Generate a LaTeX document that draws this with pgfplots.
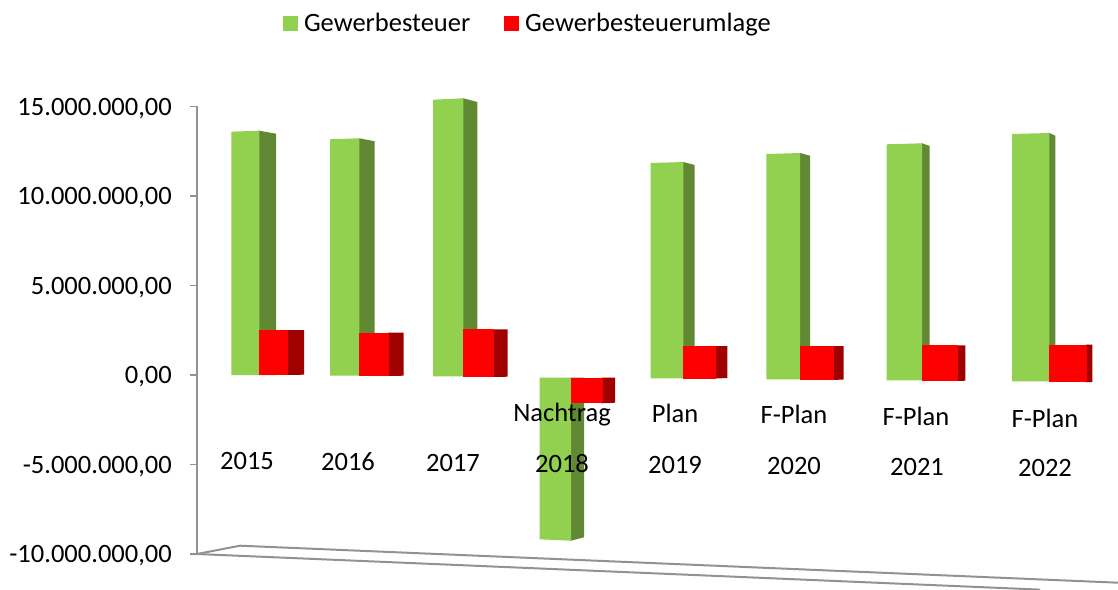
\documentclass[border=0pt]{standalone}
\usepackage{fontspec}
\setmainfont{Carlito}
\usepackage{pgfplots}
\pgfplotsset{compat=1.18}
\definecolor{gfront}{HTML}{92D050}
\definecolor{gside}{HTML}{618833}
\definecolor{rfront}{HTML}{FF0000}
\definecolor{rside}{HTML}{A00000}
\definecolor{axgray}{HTML}{929292}
\begin{document}
\begin{tikzpicture}[x=1pt,y=1pt]
\useasboundingbox (0,0) rectangle (1118,589);
\begin{axis}[
  at={(197pt,0pt)}, anchor=south west,
  scale only axis, width=921pt, height=589pt,
  xmin=197, xmax=1118,
  ymin=-11955000, ymax=20950000,
  clip=false,
  axis x line=none,
  axis y line*=left,
  y axis line style={draw=none},
  ytick={-10000000,-5000000,0,5000000,10000000,15000000},
  scaled y ticks=false,
  tick align=outside,
  major tick length=7pt,
  ytick style={draw=axgray,line width=1.8pt},
  yticklabel style={
    /pgf/number format/assume math mode=true,
    /pgf/number format/fixed,
    /pgf/number format/fixed zerofill,
    /pgf/number format/precision=2,
    /pgf/number format/use comma,
    /pgf/number format/1000 sep={.},
    font=\fontsize{26.5}{30}\selectfont,
    inner sep=0pt, xshift=-18pt, yshift=-1.7pt},
  legend style={draw=none,fill=none,at={(0.0934,0.9806)},anchor=north west,
    legend columns=2,inner sep=0pt,outer sep=0pt,
    font=\fontsize{26.5}{30}\selectfont,
    /tikz/every odd column/.append style={column sep=4pt},
    /tikz/every even column/.append style={column sep=32pt}},
  legend cell align=left,
  legend image code/.code={\path[fill,#1,draw=none] (0pt,-7.5pt) rectangle (15pt,7.5pt);},
]
% axis and floor
\addplot[forget plot,draw=axgray,line width=2.2pt] coordinates {(197,15050000) (197,-10000000)};
\addplot[forget plot,draw=axgray,line width=2pt] coordinates {(190,-10000000) (197,-10000000) (240,-9536000) (1118,-11603000)};
\addplot[forget plot,draw=axgray,line width=2pt] coordinates {(197,-10000000) (1040,-11990000)};
% 2015
\addplot[forget plot,fill=gside,draw=none] coordinates {(258.3,13648000) (259.3,13648000) (276,13481000) (276,0) (258.3,0)} --cycle;
\addplot[forget plot,fill=gfront,draw=none] coordinates {(231.3,13592000) (259.3,13648000) (259.3,0) (231.3,0)} --cycle;
\addplot[forget plot,fill=rside,draw=none] coordinates {(286.7,2514000) (304,2514000) (304,17000) (286.7,0)} --cycle;
\addplot[forget plot,fill=rfront,draw=none] coordinates {(259.3,2514000) (287.7,2514000) (287.7,0) (259.3,0)} --cycle;
% 2016
\addplot[forget plot,fill=gside,draw=none] coordinates {(358.3,13224000) (359.3,13224000) (374.7,13056000) (374.7,0) (358.3,0)} --cycle;
\addplot[forget plot,fill=gfront,draw=none] coordinates {(330,13168000) (359.3,13224000) (359.3,-39000) (330,-39000)} --cycle;
\addplot[forget plot,fill=rside,draw=none] coordinates {(388,2363000) (403.7,2363000) (403.7,-39000) (388,-56000)} --cycle;
\addplot[forget plot,fill=rfront,draw=none] coordinates {(359.3,2363000) (389,2363000) (389,-56000) (359.3,-56000)} --cycle;
% 2017
\addplot[forget plot,fill=gside,draw=none] coordinates {(462.3,15458000) (463.3,15458000) (477.3,15251000) (477.3,0) (462.3,0)} --cycle;
\addplot[forget plot,fill=gfront,draw=none] coordinates {(433,15380000) (463.3,15458000) (463.3,-73000) (433,-73000)} --cycle;
\addplot[forget plot,fill=rside,draw=none] coordinates {(492.7,2553000) (507.7,2553000) (507.7,-95000) (492.7,-112000)} --cycle;
\addplot[forget plot,fill=rfront,draw=none] coordinates {(463.3,2553000) (493.7,2553000) (493.7,-112000) (463.3,-112000)} --cycle;
% 2018
\addplot[forget plot,fill=gside,draw=none] coordinates {(570,-151000) (584,-151000) (584,-9067000) (571,-9257000) (570,-9257000)} --cycle;
\addplot[forget plot,fill=gfront,draw=none] coordinates {(539.7,-151000) (571,-151000) (571,-9257000) (539.7,-9179000)} --cycle;
\addplot[forget plot,fill=rside,draw=none] coordinates {(601.7,-151000) (615,-151000) (615,-1547000) (601.7,-1581000)} --cycle;
\addplot[forget plot,fill=rfront,draw=none] coordinates {(571,-151000) (602.7,-151000) (602.7,-1581000) (571,-1581000)} --cycle;
% 2019
\addplot[forget plot,fill=gside,draw=none] coordinates {(682.3,11899000) (683.3,11899000) (694.7,11732000) (694.7,-100000) (682.3,-100000)} --cycle;
\addplot[forget plot,fill=gfront,draw=none] coordinates {(650.7,11844000) (683.3,11899000) (683.3,-184000) (650.7,-184000)} --cycle;
\addplot[forget plot,fill=rside,draw=none] coordinates {(715.3,1620000) (727.3,1620000) (727.3,-168000) (715.3,-196000)} --cycle;
\addplot[forget plot,fill=rfront,draw=none] coordinates {(683.3,1620000) (716.3,1620000) (716.3,-196000) (683.3,-196000)} --cycle;
% 2020
\addplot[forget plot,fill=gside,draw=none] coordinates {(799,12402000) (800,12402000) (810,12251000) (810,-100000) (799,-100000)} --cycle;
\addplot[forget plot,fill=gfront,draw=none] coordinates {(766.3,12346000) (800,12402000) (800,-240000) (766.3,-240000)} --cycle;
\addplot[forget plot,fill=rside,draw=none] coordinates {(833.3,1620000) (843.7,1620000) (843.7,-251000) (833.3,-279000)} --cycle;
\addplot[forget plot,fill=rfront,draw=none] coordinates {(800,1620000) (834.3,1620000) (834.3,-279000) (800,-279000)} --cycle;
% 2021
\addplot[forget plot,fill=gside,draw=none] coordinates {(921,12944000) (922,12944000) (929.7,12793000) (929.7,-100000) (921,-100000)} --cycle;
\addplot[forget plot,fill=gfront,draw=none] coordinates {(886.7,12888000) (922,12944000) (922,-296000) (886.7,-296000)} --cycle;
\addplot[forget plot,fill=rside,draw=none] coordinates {(957,1659000) (965.3,1659000) (965.3,-318000) (957,-335000)} --cycle;
\addplot[forget plot,fill=rfront,draw=none] coordinates {(922,1659000) (958,1659000) (958,-335000) (922,-335000)} --cycle;
% 2022
\addplot[forget plot,fill=gside,draw=none] coordinates {(1048.3,13520000) (1049.3,13520000) (1055.3,13369000) (1055.3,-100000) (1048.3,-100000)} --cycle;
\addplot[forget plot,fill=gfront,draw=none] coordinates {(1012,13464000) (1049.3,13520000) (1049.3,-352000) (1012,-352000)} --cycle;
\addplot[forget plot,fill=rside,draw=none] coordinates {(1085.7,1693000) (1092.3,1693000) (1092.3,-391000) (1085.7,-408000)} --cycle;
\addplot[forget plot,fill=rfront,draw=none] coordinates {(1049.3,1693000) (1086.7,1693000) (1086.7,-408000) (1049.3,-408000)} --cycle;
% legend
\addlegendimage{fill=gfront}
\addlegendentry{Gewerbesteuer}
\addlegendimage{fill=rfront}
\addlegendentry{Gewerbesteuerumlage}
% category labels
\begin{scope}[every node/.style={font=\fontsize{26.5}{30}\selectfont,inner sep=0pt,anchor=center,text=black}]
\node at (axis cs:247,-4800000) {2015};
\node at (axis cs:348,-4860000) {2016};
\node at (axis cs:453,-4920000) {2017};
\node at (axis cs:562,-4970000) {2018};
\node at (axis cs:675,-5030000) {2019};
\node at (axis cs:794,-5090000) {2020};
\node at (axis cs:917,-5140000) {2021};
\node at (axis cs:1045,-5200000) {2022};
\node at (axis cs:562,-2200000) {Nachtrag};
\node at (axis cs:675,-2130000) {Plan};
\node at (axis cs:794,-2200000) {F-Plan};
\node at (axis cs:916,-2300000) {F-Plan};
\node at (axis cs:1045,-2420000) {F-Plan};
\end{scope}
\end{axis}
\end{tikzpicture}
\end{document}
